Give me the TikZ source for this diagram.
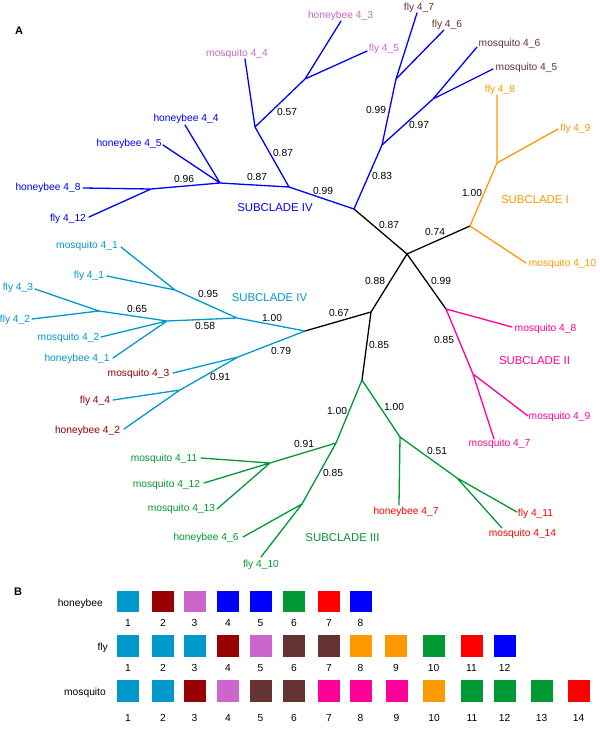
\documentclass[tikz,border=0pt]{standalone}
\usepackage{fontspec}
\setmainfont{Liberation Sans}
\definecolor{cLB}{RGB}{0,153,204}
\definecolor{cDR}{RGB}{153,0,0}
\definecolor{cOR}{RGB}{204,102,204}
\definecolor{cBL}{RGB}{0,0,255}
\definecolor{cGR}{RGB}{0,153,51}
\definecolor{cRD}{RGB}{255,0,0}
\definecolor{cBR}{RGB}{102,51,51}
\definecolor{cOG}{RGB}{255,153,0}
\definecolor{cPK}{RGB}{255,0,153}
\newcommand\lblfont{\fontsize{10.25}{12}\selectfont}
\newcommand\subfont{\fontsize{11.4}{13}\selectfont}
\begin{document}
\begin{tikzpicture}[x=1pt,y=-1pt,
  leaf/.style={font=\lblfont, inner sep=0pt, text height=7.3pt, text depth=0pt},
  sup/.style={font=\lblfont, inner sep=0pt, text height=7.3pt, text depth=0pt, text=black},
  sub/.style={font=\subfont, inner sep=0pt, text height=8.2pt, text depth=0pt},
  br/.style={line width=1.3pt, line cap=round, line join=round},
  sq/.style={inner sep=0pt, minimum width=22pt, minimum height=21.5pt, draw=none},
  num/.style={font=\lblfont, inner sep=0pt, text height=7.3pt, text depth=0pt},
  panel/.style={font=\fontsize{11}{13}\selectfont\bfseries, inner sep=0pt}]
\useasboundingbox (0,0) rectangle (600,729);
\fill[white] (0,0) rectangle (600,729);
% ---------- coordinates ----------
% blue clade
\coordinate (b1) at (354,209);
\coordinate (b2) at (289,187);
\coordinate (b3) at (220,183);
\coordinate (b4) at (151,189);
\coordinate (b5) at (255,127);
\coordinate (b6) at (305,79);
\coordinate (b7) at (382,145);
\coordinate (b8) at (396,79);
\coordinate (b9) at (433,99);
\coordinate (tm44) at (245,59);
\coordinate (thb43) at (341,21);
\coordinate (tf45) at (367,51);
\coordinate (thb44) at (185,125);
\coordinate (thb45) at (163,145);
\coordinate (thb48) at (83,188);
\coordinate (tf412) at (89,217);
\coordinate (tf47) at (417,13);
\coordinate (tf46) at (444,30);
\coordinate (tm46) at (477,47);
\coordinate (tm45) at (493,69);
% black
\coordinate (r) at (407,254);
\coordinate (c1) at (371,312);
% orange
\coordinate (o1) at (470,226);
\coordinate (o2) at (497,163);
\coordinate (tf48) at (497,95);
\coordinate (tf49) at (558,129);
\coordinate (tm410) at (526,263);
% pink
\coordinate (p1) at (446,309);
\coordinate (p2) at (473,374);
\coordinate (tm48) at (512,327);
\coordinate (tm49) at (528,416);
\coordinate (tm47) at (494,439);
% green
\coordinate (g1) at (362,380);
\coordinate (g2) at (400,437);
\coordinate (g3) at (457,478);
\coordinate (g4) at (336,443);
\coordinate (g5) at (270,463);
\coordinate (g6) at (302,504);
\coordinate (thb47) at (399,505);
\coordinate (tf411) at (517,512);
\coordinate (tm414) at (502,528);
\coordinate (tm411) at (201,458);
\coordinate (tm412) at (204,483);
\coordinate (tm413) at (217,509);
\coordinate (thb46) at (243,537);
\coordinate (tf410) at (261,557);
% light blue
\coordinate (l1) at (305,331);
\coordinate (l2) at (237,318);
\coordinate (l3) at (175,290);
\coordinate (l4) at (167,321);
\coordinate (l5) at (99,311);
\coordinate (l6) at (238,357);
\coordinate (l7) at (180,390);
\coordinate (tm41) at (121,247);
\coordinate (tf41) at (107,276);
\coordinate (tf43) at (35,289);
\coordinate (tf42) at (32,319);
\coordinate (tm42) at (101,337);
\coordinate (thb41) at (113,358);
\coordinate (tm43) at (173,373);
\coordinate (tf44) at (113,400);
\coordinate (thb42) at (124,429);
% ---------- branches ----------
\draw[br,black] (b1) -- (r) (r) -- (o1) (r) -- (p1) (r) -- (c1) (c1) -- (l1) (c1) -- (g1);
\draw[br,cBL] (b1) -- (b2) (b2) -- (b3) (b3) -- (b4) (b2) -- (b5) (b5) -- (b6)
  (b5) -- (tm44) (b6) -- (thb43) (b6) -- (tf45) (b3) -- (thb44) (b3) -- (thb45)
  (b4) -- (thb48) (b4) -- (tf412) (b1) -- (b7) (b7) -- (b8) (b7) -- (b9)
  (b8) -- (tf47) (b8) -- (tf46) (b9) -- (tm46) (b9) -- (tm45);
\draw[br,cOG] (o1) -- (o2) (o2) -- (tf48) (o2) -- (tf49) (o1) -- (tm410);
\draw[br,cPK] (p1) -- (tm48) (p1) -- (p2) (p2) -- (tm49) (p2) -- (tm47);
\draw[br,cGR] (g1) -- (g2) (g2) -- (thb47) (g2) -- (g3) (g3) -- (tf411) (g3) -- (tm414)
  (g1) -- (g4) (g4) -- (g5) (g5) -- (tm411) (g5) -- (tm412) (g5) -- (tm413)
  (g4) -- (g6) (g6) -- (thb46) (g6) -- (tf410);
\draw[br,cLB] (l1) -- (l2) (l2) -- (l3) (l3) -- (tm41) (l3) -- (tf41) (l2) -- (l4)
  (l4) -- (l5) (l5) -- (tf43) (l5) -- (tf42) (l4) -- (tm42) (l4) -- (thb41)
  (l1) -- (l6) (l6) -- (tm43) (l6) -- (l7) (l7) -- (tf44) (l7) -- (thb42);
% ---------- leaf labels ----------
\node[leaf,text=cOR] (Lm44) at (237,53) {mosquito 4\_4};
\node[leaf,text=cOR] (Lhb43) at (340.5,15) {honeybee 4\_3};
\node[leaf,text=cOR] (Lf45) at (384,48) {fly 4\_5};
\node[leaf,text=cBR] (Lf47) at (419,7) {fly 4\_7};
\node[leaf,text=cBR] (Lf46) at (447,24) {fly 4\_6};
\node[leaf,text=cBR] (Lm46) at (509.5,43) {mosquito 4\_6};
\node[leaf,text=cBR] (Lm45) at (526.5,67) {mosquito 4\_5};
\node[leaf,text=cBL] (Lhb44) at (186,118) {honeybee 4\_4};
\node[leaf,text=cBL] (Lhb45) at (129,143) {honeybee 4\_5};
\node[leaf,text=cBL] (Lhb48) at (48,187) {honeybee 4\_8};
\node[leaf,text=cBL] (Lf412) at (68,218) {fly 4\_12};
\node[leaf,text=cOG] (Lf48) at (500,89) {fly 4\_8};
\node[leaf,text=cOG] (Lf49) at (575.5,128) {fly 4\_9};
\node[leaf,text=cOG] (Lm410) at (562.5,263) {mosquito 4\_10};
\node[leaf,text=cPK] (Lm48) at (545.5,328) {mosquito 4\_8};
\node[leaf,text=cPK] (Lm49) at (559.5,416) {mosquito 4\_9};
\node[leaf,text=cPK] (Lm47) at (499.5,443) {mosquito 4\_7};
\node[leaf,text=cRD] (Lhb47) at (406,511) {honeybee 4\_7};
\node[leaf,text=cRD] (Lf411) at (535.5,513) {fly 4\_11};
\node[leaf,text=cRD] (Lm414) at (522.5,533) {mosquito 4\_14};
\node[leaf,text=cGR] (Lm411) at (164,458) {mosquito 4\_11};
\node[leaf,text=cGR] (Lm412) at (166.5,484) {mosquito 4\_12};
\node[leaf,text=cGR] (Lm413) at (181.5,508) {mosquito 4\_13};
\node[leaf,text=cGR] (Lhb46) at (206,537) {honeybee 4\_6};
\node[leaf,text=cGR] (Lf410) at (261,564) {fly 4\_10};
\node[leaf,text=cLB] (Lm41) at (87,245) {mosquito 4\_1};
\node[leaf,text=cLB] (Lf41) at (89,275) {fly 4\_1};
\node[leaf,text=cLB] (Lf43) at (18,287) {fly 4\_3};
\node[leaf,text=cLB] (Lf42) at (15,319) {fly 4\_2};
\node[leaf,text=cLB] (Lm42) at (68.5,337) {mosquito 4\_2};
\node[leaf,text=cLB] (Lhb41) at (77,358) {honeybee 4\_1};
\node[leaf,text=cDR] (Lm43) at (138.5,373) {mosquito 4\_3};
\node[leaf,text=cDR] (Lf44) at (95,400) {fly 4\_4};
\node[leaf,text=cDR] (Lhb42) at (87.5,430) {honeybee 4\_2};
% ---------- subclade labels ----------
\node[sub,text=cBL] (S4a) at (275,207) {SUBCLADE IV};
\node[sub,text=cLB] (S4b) at (269.5,297) {SUBCLADE IV};
\node[sub,text=cOG] (S1) at (535,199) {SUBCLADE I};
\node[sub,text=cPK] (S2) at (534.5,360) {SUBCLADE II};
\node[sub,text=cGR] (S3) at (342.5,537) {SUBCLADE III};
% ---------- support values ----------
\node[sup] (v1) at (287,112) {0.57};
\node[sup] (v2) at (283,153) {0.87};
\node[sup] (v3) at (257,177) {0.87};
\node[sup] (v4) at (184,179) {0.96};
\node[sup] (v5) at (323,191) {0.99};
\node[sup] (v6) at (382,176) {0.83};
\node[sup] (v7) at (376,110) {0.99};
\node[sup] (v8) at (419,125) {0.97};
\node[sup] (v9) at (389,225) {0.87};
\node[sup] (v10) at (435,232) {0.74};
\node[sup] (v11) at (472,193) {1.00};
\node[sup] (v12) at (441,281) {0.99};
\node[sup] (v13) at (444,340) {0.85};
\node[sup] (v14) at (375,281) {0.88};
\node[sup] (v15) at (339,313) {0.67};
\node[sup] (v16) at (379,345) {0.85};
\node[sup] (v17) at (394,407) {1.00};
\node[sup] (v18) at (437,451) {0.51};
\node[sup] (v19) at (337,411) {1.00};
\node[sup] (v20) at (304,444) {0.91};
\node[sup] (v21) at (333,473) {0.85};
\node[sup] (v22) at (272,318) {1.00};
\node[sup] (v23) at (208,294) {0.95};
\node[sup] (v24) at (205,326) {0.58};
\node[sup] (v25) at (137,309) {0.65};
\node[sup] (v26) at (281,351) {0.79};
\node[sup] (v27) at (220,377) {0.91};
% ---------- panel letters ----------
\node[panel] (pA) at (19,31) {A};
\node[panel] (pB) at (18,592) {B};
% ---------- panel B ----------
\node[leaf,anchor=east] (rowhb) at (103,603) {honeybee};
\node[leaf,anchor=east] (rowfly) at (108,647) {fly};
\node[leaf,anchor=east] (rowmo) at (106,692) {mosquito};
\foreach \x/\c [count=\i] in {128/cLB,163/cDR,194.5/cOR,228/cBL,260.5/cBL,294/cGR,329/cRD,360.5/cBL}{
  \node[sq,fill=\c] (hbsq\i) at (\x,601.5) {};
  \node[num] (hbn\i) at (\x,623) {\i};
}
\foreach \x/\c [count=\i] in {128/cLB,163/cLB,194.5/cLB,228/cDR,260.5/cOR,294/cBR,329/cBR,360.5/cOG,396/cOG,433.5/cGR,471.5/cRD,504.5/cBL}{
  \node[sq,fill=\c] (flsq\i) at (\x,646) {};
  \node[num] (fln\i) at (\x,668) {\i};
}
\foreach \x/\c [count=\i] in {128/cLB,163/cLB,194.5/cDR,228/cOR,260.5/cBR,294/cBR,329/cPK,360.5/cPK,396.5/cPK,434/cOG,472/cGR,504.5/cGR,541.5/cGR,578.5/cRD}{
  \node[sq,fill=\c] (mosq\i) at (\x,691) {};
  \node[num] (mon\i) at (\x,718) {\i};
}
\end{tikzpicture}
\end{document}
